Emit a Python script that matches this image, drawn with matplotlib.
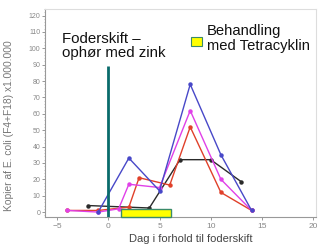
import matplotlib
matplotlib.use("Agg")
import matplotlib.pyplot as plt
from matplotlib.patches import Rectangle
from matplotlib.ticker import MultipleLocator

plt.rcParams['font.family'] = ['Liberation Sans', 'DejaVu Sans']

# Data (day relative to feed change, copies x 1,000,000)
blue_x = [-1, 2, 5, 8, 11, 14]
blue_y = [0, 33, 13, 78, 35, 1]
pink_x = [-4, -1, 1, 2, 5, 8, 11, 14]
pink_y = [1, 0, 2, 17, 15, 62, 20, 1]
red_x = [-4, -1, 2, 3, 6, 8, 11, 14]
red_y = [1, 1, 3, 21, 16.5, 52, 12, 1]
black_x = [-2, 4, 7, 10, 13]
black_y = [4, 2.5, 32, 32, 18.5]

feed_change_day = 0
feed_line_top = 89
treat_start, treat_end = 1.2, 6.1
treat_top = 1.6

xticks = [-5, 0, 5, 10, 15, 20]
yticks = list(range(0, 121, 10))

fig = plt.figure(figsize=(3.22, 2.46), dpi=100)
ax = fig.add_axes([45/322, 29/246, (316-45)/322, (237-29)/246])
ax.set_xlim(-6.2, 20.3)
ax.set_ylim(-3, 124)

ax.plot(black_x, black_y, color='#2a2a2a', lw=1.0, marker='o', ms=2.2, zorder=3)
ax.plot(red_x, red_y, color='#e0402a', lw=1.0, marker='o', ms=2.2, zorder=3)
ax.plot(pink_x, pink_y, color='#e040e8', lw=1.0, marker='o', ms=2.2, zorder=4)
ax.plot(blue_x, blue_y, color='#4848c8', lw=1.0, marker='o', ms=2.2, zorder=5)

ax.add_patch(Rectangle((treat_start, -3), treat_end - treat_start, treat_top + 3,
                       facecolor='#ffff00', edgecolor='#3a8a6a', lw=1.0, zorder=6,
                       clip_on=False))
ax.plot([feed_change_day, feed_change_day], [-3, feed_line_top], color='#0a6b6b',
        lw=2.0, zorder=7, solid_capstyle='butt')

ax.set_xticks(xticks)
ax.set_yticks(yticks)
ax.yaxis.set_minor_locator(MultipleLocator(2))
ax.tick_params(axis='both', labelsize=5, colors='#888888', length=2, width=0.6, pad=1.5)
ax.tick_params(axis='y', which='minor', length=1, width=0.5, colors='#aaaaaa')
ax.tick_params(axis='x', labelsize=6, pad=2)
for s in ['left', 'bottom']:
    ax.spines[s].set_color('#999999')
    ax.spines[s].set_linewidth(0.8)
for s in ['top', 'right']:
    ax.spines[s].set_color('#dddddd')
    ax.spines[s].set_linewidth(0.8)

ax.set_xlabel('Dag i forhold til foderskift', fontsize=8.0, color='#444444')
ax.xaxis.set_label_coords(0.538, -0.082)
ax.set_ylabel('Kopier af E. coli (F4+F18) x1.000.000', fontsize=7.4, color='#777777',
              va='center')
ax.yaxis.set_label_coords(-0.131, 0.44)

fig.text(62/322, 1 - 32/246, 'Foderskift –\nophør med zink', fontsize=10.8, color='#111111',
         va='top', ha='left', linespacing=1.0)
fig.patches.append(Rectangle((191/322, 1 - 46/246), 11/322, 9/246, transform=fig.transFigure,
                             facecolor='#ffff00', edgecolor='#3a8a6a', lw=0.8))
fig.text(207/322, 1 - 24/246, 'Behandling\nmed Tetracyklin', fontsize=10.6, color='#111111',
         va='top', ha='left', linespacing=1.1)

fig.savefig('out.png', dpi=100)
